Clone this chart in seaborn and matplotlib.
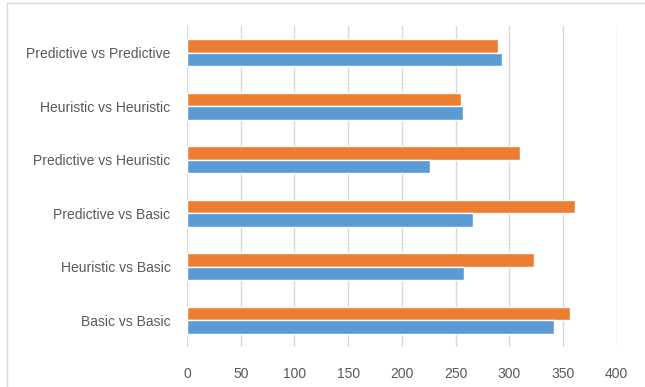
import pandas as pd
import matplotlib.pyplot as plt
import seaborn as sns
from matplotlib.patches import Rectangle

categories = ['Predictive vs Predictive', 'Heuristic vs Heuristic', 'Predictive vs Heuristic',
              'Predictive vs Basic', 'Heuristic vs Basic', 'Basic vs Basic']
series1 = [293, 257, 226, 266, 258, 342]   # blue
series2 = [290, 255, 310, 361, 323, 357]   # orange
xticks = [0, 50, 100, 150, 200, 250, 300, 350, 400]

df = pd.DataFrame({
    'Category': categories * 2,
    'Value': series1 + series2,
    'Series': ['Series1'] * len(categories) + ['Series2'] * len(categories),
})

sns.set_style('white')
plt.rcParams['font.family'] = ['Liberation Sans', 'DejaVu Sans']

fig = plt.figure(figsize=(6.45, 3.87), dpi=100)
ax = fig.add_axes([0.290, 0.103, 0.666, 0.830])

sns.barplot(data=df, y='Category', x='Value', hue='Series', order=categories,
            hue_order=['Series2', 'Series1'],
            palette={'Series1': '#5B9BD5', 'Series2': '#ED7D31'},
            width=0.5, orient='h', ax=ax, legend=False, saturation=1)

ax.set_xlim(0, 400)
ax.set_xticks(xticks)
ax.set_ylim(5.5, -0.5)
ax.grid(axis='x', color='#D9D9D9', linewidth=1)
ax.set_axisbelow(True)
for s in ax.spines.values():
    s.set_visible(False)
ax.set_xlabel('')
ax.set_ylabel('')
ax.tick_params(axis='both', length=0, colors='#595959', labelsize=10)
ax.tick_params(axis='x', pad=14)
ax.tick_params(axis='y', pad=12)

# chart-area border (only left and top visible in the crop)
fig.patches.append(Rectangle((0.011, -0.1), 1.2, 1.092, transform=fig.transFigure,
                             fill=False, edgecolor='#D9D9D9', linewidth=1))

fig.savefig('out.png', dpi=100)
